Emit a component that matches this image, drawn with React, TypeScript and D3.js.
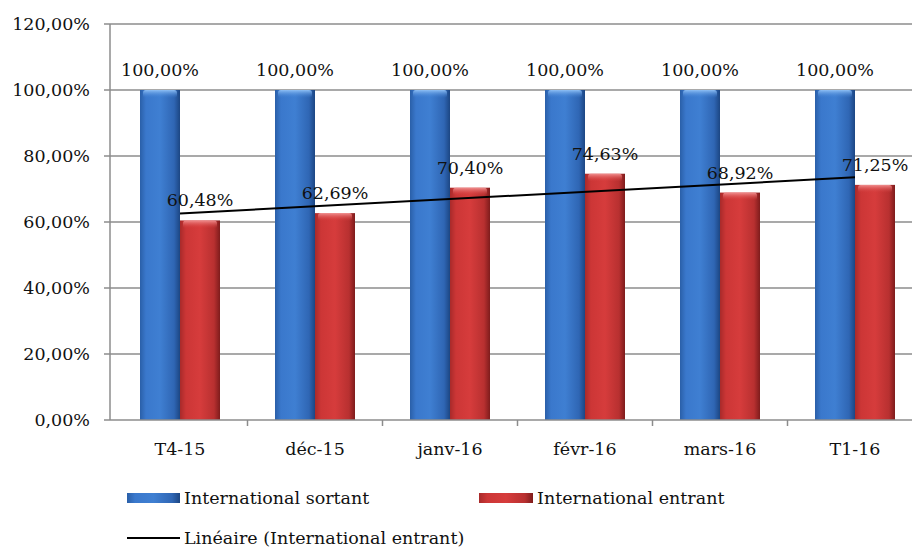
import React from "react";
import * as d3 from "d3";

const categories = ["T4-15", "déc-15", "janv-16", "févr-16", "mars-16", "T1-16"];
const sortant = [1.0, 1.0, 1.0, 1.0, 1.0, 1.0];
const entrant = [0.6048, 0.6269, 0.704, 0.7463, 0.6892, 0.7125];
const yTicks = [0, 0.2, 0.4, 0.6, 0.8, 1.0, 1.2];
const seriesNames = ["International sortant", "International entrant"];
const trendName = "Linéaire (International entrant)";

const W = 912;
const H = 547;
const FONT = "'DejaVu Serif', serif";

const fmt = (v: number) => (v * 100).toFixed(2).replace(".", ",") + "%";

export default function App() {
  const axisX = 110;
  const x = d3.scaleBand<string>().domain(categories).range([112.5, 112.5 + 6 * 135]).paddingInner(0).paddingOuter(0);
  const inner = d3.scaleBand<number>().domain([0, 1]).range([0, x.bandwidth()]).paddingInner(0).paddingOuter(0.6875);
  const y = d3.scaleLinear().domain([0, 1.2]).range([420, 24]);

  // linear trend (least squares) on entrant
  const n = entrant.length;
  const xs = entrant.map((_, i) => i + 1);
  const mx = d3.mean(xs)!;
  const my = d3.mean(entrant)!;
  const sxy = d3.sum(xs.map((xi, i) => (xi - mx) * (entrant[i] - my)));
  const sxx = d3.sum(xs.map((xi) => (xi - mx) ** 2));
  const slope = sxy / sxx;
  const icpt = my - slope * mx;
  const cx = (i: number) => x(categories[i])! + x.bandwidth() / 2;
  const trendPts: [number, number][] = [
    [cx(0), y(icpt + slope * 1)],
    [cx(n - 1), y(icpt + slope * n)],
  ];
  const line = d3.line();

  const series = [sortant, entrant];
  const grads = ["gBlue", "gRed"];
  const tops = ["tBlue", "tRed"];

  return (
    <svg width={W} height={H} style={{ position: "absolute", left: 0, top: 0, background: "#fff" }} fontFamily={FONT}>
      <defs>
        <linearGradient id="gBlue" x1="0" x2="1" y1="0" y2="0">
          <stop offset="0" stopColor="#2a5fa8" />
          <stop offset="0.15" stopColor="#3a78cc" />
          <stop offset="0.5" stopColor="#3f7fd2" />
          <stop offset="0.85" stopColor="#2f66b4" />
          <stop offset="1" stopColor="#1c4683" />
        </linearGradient>
        <linearGradient id="gRed" x1="0" x2="1" y1="0" y2="0">
          <stop offset="0" stopColor="#a82a2a" />
          <stop offset="0.15" stopColor="#cc3636" />
          <stop offset="0.5" stopColor="#d63c3c" />
          <stop offset="0.85" stopColor="#b83030" />
          <stop offset="1" stopColor="#7e1c1c" />
        </linearGradient>
        <linearGradient id="tBlue" x1="0" x2="0" y1="0" y2="1">
          <stop offset="0" stopColor="#8fc0f5" />
          <stop offset="1" stopColor="#3f7fd2" stopOpacity="0" />
        </linearGradient>
        <linearGradient id="tRed" x1="0" x2="0" y1="0" y2="1">
          <stop offset="0" stopColor="#f09090" />
          <stop offset="1" stopColor="#d63c3c" stopOpacity="0" />
        </linearGradient>
      </defs>

      {/* gridlines */}
      {yTicks.map((t) => (
        <g key={t}>
          {t > 0 && <line x1={axisX} x2={W} y1={y(t)} y2={y(t)} stroke="#8c8c8c" strokeWidth={1.5} />}
          <line x1={axisX - 6} x2={axisX} y1={y(t)} y2={y(t)} stroke="#8c8c8c" strokeWidth={1.5} />
          <text x={90} y={y(t)} dy="0.36em" textAnchor="end" fontSize={17.5} fill="#111">
            {fmt(t)}
          </text>
        </g>
      ))}

      {/* bars */}
      {series.map((s, si) =>
        s.map((v, i) => {
          const bx = x(categories[i])! + inner(si)!;
          const bw = inner.bandwidth();
          const by = y(v);
          const bh = y(0) - by;
          return (
            <g key={`${si}-${i}`}>
              <rect x={bx} y={by} width={bw} height={bh} fill={`url(#${grads[si]})`} />
              <rect x={bx + 3} y={by} width={bw - 6} height={8} fill={`url(#${tops[si]})`} rx={3} />
              <text x={bx + bw / 2} y={by - 14} textAnchor="middle" fontSize={17.5} fill="#111">
                {fmt(v)}
              </text>
            </g>
          );
        })
      )}

      {/* axes */}
      <line x1={axisX} x2={axisX} y1={y(1.2)} y2={y(0)} stroke="#8c8c8c" strokeWidth={1.5} />
      <line x1={axisX} x2={W} y1={y(0)} y2={y(0)} stroke="#8c8c8c" strokeWidth={1.5} />
      {categories.map((c, i) => (
        <g key={c}>
          <line x1={x(c)! + x.bandwidth()} x2={x(c)! + x.bandwidth()} y1={y(0)} y2={y(0) + 6} stroke="#8c8c8c" strokeWidth={1.5} />
          <text x={cx(i)} y={y(0) + 29} dy="0.36em" textAnchor="middle" fontSize={17.5} fill="#111">
            {c}
          </text>
        </g>
      ))}

      {/* trend line */}
      <path d={line(trendPts)!} stroke="#000" strokeWidth={2} fill="none" />

      {/* legend */}
      <rect x={127} y={493} width={53} height={10} fill="url(#gBlue)" />
      <text x={184} y={498} dy="0.36em" fontSize={17.5} fill="#111">{seriesNames[0]}</text>
      <rect x={479} y={493} width={54} height={10} fill="url(#gRed)" />
      <text x={537} y={498} dy="0.36em" fontSize={17.5} fill="#111">{seriesNames[1]}</text>
      <line x1={127} x2={180} y1={538} y2={538} stroke="#000" strokeWidth={2} />
      <text x={184} y={538} dy="0.36em" fontSize={17.5} fill="#111">{trendName}</text>
    </svg>
  );
}
